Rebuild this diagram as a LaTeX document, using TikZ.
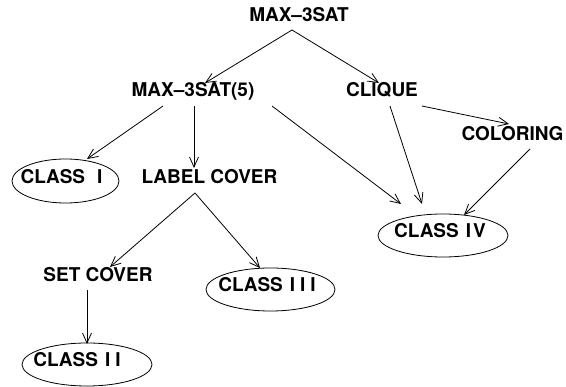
\documentclass[tikz,border=0pt]{standalone}
\usepackage{fontspec}
\setmainfont{TeX Gyre Heros}
\usetikzlibrary{arrows.meta,shapes.geometric}
\newcommand\ctxt[2]{\makebox[0pt]{\hspace*{-2\dimexpr#1\relax}#2}}
\tikzset{
  txt/.style={inner sep=0pt,text height=13.6pt,text depth=0pt,font=\fontsize{19}{19}\bfseries\selectfont},
  cls/.style={draw,ellipse,line width=0.8pt,inner sep=0pt,text height=13.6pt,text depth=9pt,font=\fontsize{19}{19}\bfseries\selectfont},
  arr/.style={line width=0.8pt,-{Straight Barb[length=10pt,width=9pt,line width=0.8pt]}}
}
\begin{document}
\begin{tikzpicture}[x=1pt,y=-1pt]
\useasboundingbox (0,0) rectangle (566,387);
\node[txt] (top) at (299,15) {MAX\textendash3SAT};
\node[txt] (m5) at (193,90) {MAX\textendash3SAT(5)};
\node[txt] (clique) at (382,90) {CLIQUE};
\node[txt] (col) at (512.5,133.5) {COLORING};
\node[txt] (lc) at (209.5,176.5) {LABEL COVER};
\node[txt] (sc) at (98,274.5) {SET COVER};
\node[cls,minimum width=107pt,minimum height=44pt] (c1) at (65.5,181) {\ctxt{4pt}{CLASS\hspace{12pt}I}};
\node[cls,minimum width=130pt,minimum height=43pt] (c4) at (443,235.5) {\ctxt{3pt}{CLASS\hspace{7pt}I\hspace{2pt}V}};
\node[cls,minimum width=129pt,minimum height=43pt] (c3) at (270.5,289.5) {\ctxt{3.5pt}{CLASS\hspace{7pt}I\hspace{5pt}I\hspace{5pt}I}};
\node[cls,minimum width=130pt,minimum height=43pt] (c2) at (87,364.5) {\ctxt{10pt}{CLASS\hspace{7pt}I\hspace{5pt}I}};
\draw[arr] ([shift={(-7,15)}]top.center) -- ([shift={(12,-7)}]m5.center);
\draw[arr] ([shift={(-7,15)}]top.center) -- ([shift={(-3,-7)}]clique.center);
\draw[arr] ([shift={(-30,16)}]m5.center) -- ([shift={(21.5,-22)}]c1.center);
\draw[arr] ([shift={(1,16)}]m5.center) -- ([shift={(-15.5,-8.5)}]lc.center);
\draw[arr] ([shift={(79,16)}]m5.center) -- ([shift={(-42,-31.5)}]c4.center);
\draw[arr] ([shift={(8,16)}]clique.center) -- ([shift={(-21,-31.5)}]c4.center);
\draw[arr] ([shift={(40,16)}]clique.center) -- ([shift={(-3.5,-9.5)}]col.center);
\draw[arr] ([shift={(17.5,15.5)}]col.center) -- ([shift={(21,-20.5)}]c4.center);
\draw[arr] ([shift={(-14.5,16.5)}]lc.center) -- ([shift={(12,-7.5)}]sc.center);
\draw[arr] ([shift={(-14.5,16.5)}]lc.center) -- ([shift={(-10.5,-21.5)}]c3.center);
\draw[arr] ([shift={(-11,15.5)}]sc.center) -- ([shift={(0,-20.5)}]c2.center);
\end{tikzpicture}
\end{document}
